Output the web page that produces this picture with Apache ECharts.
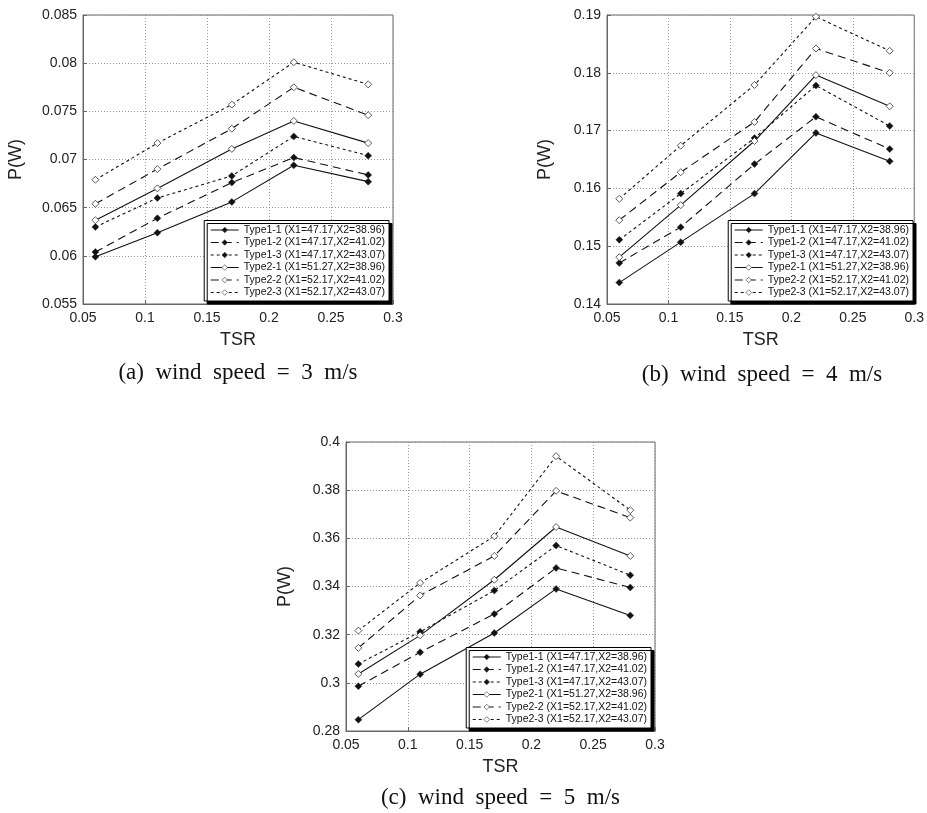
<!DOCTYPE html>
<html>
<head>
<meta charset="utf-8">
<script src="https://cdn.jsdelivr.net/npm/echarts@6/dist/echarts.min.js"></script>
<style>
html,body{margin:0;padding:0;background:#fff;}
#chart{width:927px;height:813px;}
</style>
</head>
<body>
<div id="chart"></div>
<script>
// ---- data ----
const tsr = [0.06, 0.11, 0.17, 0.22, 0.28];
const seriesNames = [
  'Type1-1 (X1=47.17,X2=38.96)',
  'Type1-2 (X1=47.17,X2=41.02)',
  'Type1-3 (X1=47.17,X2=43.07)',
  'Type2-1 (X1=51.27,X2=38.96)',
  'Type2-2 (X1=52.17,X2=41.02)',
  'Type2-3 (X1=52.17,X2=43.07)'
];
const captions = ['(a)  wind  speed  =  3  m/s', '(b)  wind  speed  =  4  m/s', '(c)  wind  speed  =  5  m/s'];
const xTitle = 'TSR';
const yTitle = 'P(W)';

// wind speed = 3 m/s
const ws3_T1_1 = [0.0599, 0.0624, 0.0656, 0.0694, 0.0677];
const ws3_T1_2 = [0.0604, 0.0639, 0.0676, 0.0702, 0.0684];
const ws3_T1_3 = [0.0630, 0.0660, 0.0683, 0.0724, 0.0704];
const ws3_T2_1 = [0.0637, 0.0670, 0.0711, 0.0740, 0.0717];
const ws3_T2_2 = [0.0654, 0.0690, 0.0732, 0.0775, 0.0746];
const ws3_T2_3 = [0.0679, 0.0717, 0.0757, 0.0801, 0.0778];
// wind speed = 4 m/s
const ws4_T1_1 = [0.1437, 0.1507, 0.1591, 0.1696, 0.1647];
const ws4_T1_2 = [0.1471, 0.1533, 0.1642, 0.1724, 0.1668];
const ws4_T1_3 = [0.1511, 0.1591, 0.1687, 0.1778, 0.1708];
const ws4_T2_1 = [0.1481, 0.1571, 0.1682, 0.1796, 0.1742];
const ws4_T2_2 = [0.1545, 0.1628, 0.1715, 0.1842, 0.1800];
const ws4_T2_3 = [0.1582, 0.1674, 0.1779, 0.1897, 0.1838];
// wind speed = 5 m/s
const ws5_T1_1 = [0.2847, 0.3036, 0.3207, 0.3390, 0.3280];
const ws5_T1_2 = [0.2986, 0.3127, 0.3286, 0.3477, 0.3396];
const ws5_T1_3 = [0.3078, 0.3212, 0.3383, 0.3570, 0.3447];
const ws5_T2_1 = [0.3037, 0.3197, 0.3428, 0.3647, 0.3527];
const ws5_T2_2 = [0.3145, 0.3363, 0.3527, 0.3797, 0.3686];
const ws5_T2_3 = [0.3217, 0.3415, 0.3609, 0.3941, 0.3717];

// axis ranges
const xMin = 0.05, xMax = 0.3, xStep = 0.05;
const yRanges = [
  {min: 0.055, max: 0.085, interval: 0.005},
  {min: 0.14, max: 0.19, interval: 0.01},
  {min: 0.28, max: 0.40, interval: 0.02}
];

const panels = [
  [ws3_T1_1, ws3_T1_2, ws3_T1_3, ws3_T2_1, ws3_T2_2, ws3_T2_3],
  [ws4_T1_1, ws4_T1_2, ws4_T1_3, ws4_T2_1, ws4_T2_2, ws4_T2_3],
  [ws5_T1_1, ws5_T1_2, ws5_T1_3, ws5_T2_1, ws5_T2_2, ws5_T2_3]
];

// ---- layout / style ----
const grids = [
  {left: 83, top: 15, width: 310, height: 289},
  {left: 607, top: 15, width: 310, height: 289},
  {left: 346, top: 442, width: 309, height: 289}
];
const yNameGaps = [58, 53, 52];
const captionY = [373, 375, 798];
const lineTypes = ['solid', [8, 5], [3, 3], 'solid', [8, 5], [3, 3]];
const SANS = 'Liberation Sans, Arial, sans-serif';

const option = {
  animation: false,
  backgroundColor: '#fff',
  grid: grids.map(g => Object.assign({show: true, borderColor: '#666', borderWidth: 1, backgroundColor: 'transparent'}, g)),
  xAxis: grids.map((g, i) => ({
    type: 'value', gridIndex: i, min: xMin, max: xMax, interval: xStep,
    name: xTitle, nameLocation: 'middle', nameGap: 27,
    nameTextStyle: {fontFamily: SANS, fontSize: 18, color: '#222'},
    axisLine: {show: true, lineStyle: {color: '#666', width: 1}},
    axisTick: {show: true, inside: true, length: 4, lineStyle: {color: '#666'}},
    axisLabel: {fontFamily: SANS, fontSize: 14, color: '#222', margin: 7},
    splitLine: {show: true, lineStyle: {color: '#999', type: [1, 2], width: 1}}
  })),
  yAxis: grids.map((g, i) => ({
    type: 'value', gridIndex: i, min: yRanges[i].min, max: yRanges[i].max, interval: yRanges[i].interval,
    name: yTitle, nameLocation: 'middle', nameGap: yNameGaps[i], nameRotate: 90,
    nameTextStyle: {fontFamily: SANS, fontSize: 18, color: '#222'},
    axisLine: {show: true, lineStyle: {color: '#666', width: 1}},
    axisTick: {show: true, inside: true, length: 4, lineStyle: {color: '#666'}},
    axisLabel: {fontFamily: SANS, fontSize: 14, color: '#222', margin: 6},
    splitLine: {show: true, lineStyle: {color: '#999', type: [1, 2], width: 1}}
  })),
  legend: grids.map((g, i) => ({
    orient: 'vertical',
    right: 927 - (g.left + g.width) + 4,
    bottom: 813 - (g.top + g.height) + 3,
    data: seriesNames,
    backgroundColor: '#fff',
    borderColor: '#000', borderWidth: 1,
    shadowColor: '#000', shadowBlur: 0, shadowOffsetX: 3, shadowOffsetY: 3,
    padding: [4, 4, 3, 6],
    itemWidth: 28, itemHeight: 7, itemGap: 1.5,
    selectedMode: false,
    lineStyle: {width: 1},
    itemStyle: {borderWidth: 0.6},
    textStyle: {fontFamily: SANS, fontSize: 10.5, color: '#111', lineHeight: 11}
  })),
  graphic: grids.map((g, i) => ({
    type: 'text',
    x: g.left + g.width / 2, y: captionY[i],
    style: {text: captions[i], font: '23px "Liberation Serif", "Times New Roman", serif', fill: '#111', textAlign: 'center', textVerticalAlign: 'middle'}
  })),
  series: []
};

panels.forEach((vals, gi) => {
  vals.forEach((arr, si) => {
    const filled = si < 3;
    option.series.push({
      type: 'line', name: seriesNames[si], xAxisIndex: gi, yAxisIndex: gi,
      data: tsr.map((x, k) => [x, arr[k]]),
      symbol: 'diamond', symbolSize: 7, showSymbol: true,
      lineStyle: {color: '#111', width: 1.1, type: lineTypes[si]},
      itemStyle: {color: filled ? '#111' : '#fff', borderColor: '#333', borderWidth: filled ? 0.5 : 0.8},
      z: 3
    });
  });
});

const chart = echarts.init(document.getElementById('chart'), null, {renderer: 'canvas'});
chart.setOption(option);
</script>
</body>
</html>
